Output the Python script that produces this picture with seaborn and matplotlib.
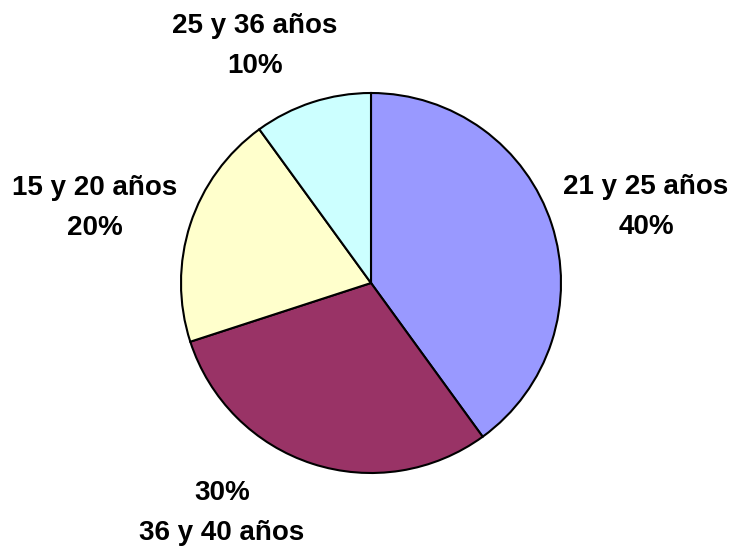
import matplotlib
matplotlib.use("Agg")
import matplotlib.pyplot as plt
import seaborn as sns

# Data
rangos = ['21 y 25 años', '36 y 40 años', '15 y 20 años', '25 y 36 años']
porcentajes = [40, 30, 20, 10]
colores = ['#9999FF', '#993366', '#FFFFCC', '#CCFFFF']

sns.set_theme(style='white')
plt.rcParams['font.family'] = ['Liberation Sans', 'DejaVu Sans']

W, H = 736, 548
fig = plt.figure(figsize=(W / 100, H / 100), dpi=100)
# pie centre (371, 283) px, radius 190 px
cx, cy, r = 371, 283, 190
ax = fig.add_axes([(cx - r) / W, (H - cy - r) / H, 2 * r / W, 2 * r / H])

ax.pie(porcentajes, colors=colores, startangle=90, counterclock=False,
       wedgeprops={'edgecolor': 'black', 'linewidth': 1.5})
ax.set_xlim(-1, 1)
ax.set_ylim(-1, 1)

# label placement in pixels (centre of each text block)
pos_etiquetas = [(646, 207), (222, 513), (95, 208), (255, 46)]
for i, (nombre, p) in enumerate(zip(rangos, porcentajes)):
    px, py = pos_etiquetas[i]
    if i == 1:
        txt = f'{p}%\n{nombre}'
    else:
        txt = f'{nombre}\n{p}%'
    fig.text(px / W, 1 - py / H, txt, ha='center', va='center',
             multialignment='center', fontsize=20, fontweight='bold',
             linespacing=1.66, color='black')

fig.savefig('out.png', dpi=100, facecolor='white')
